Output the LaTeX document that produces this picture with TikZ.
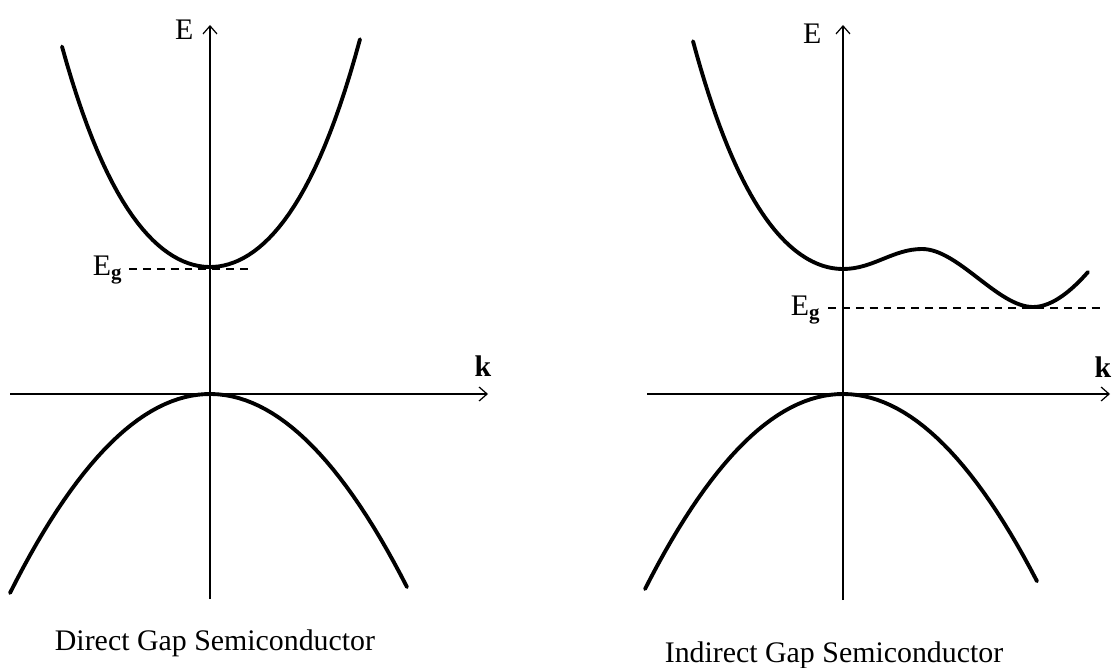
\documentclass[tikz,border=0pt]{standalone}
\usetikzlibrary{arrows.meta}
\usepackage{fontspec}
\setmainfont{Liberation Serif}

\begin{document}
\begin{tikzpicture}[x=0.02cm,y=0.02cm,line width=0.7pt,
  axis/.style={line width=0.7pt,-{Straight Barb[length=1.6mm,width=2.8mm]}},
  band/.style={line width=2.2pt,line cap=round},
  gap/.style={line width=0.8pt,dash pattern=on 4.5pt off 3.4pt},
  lbl/.style={font=\fontsize{17}{20}\selectfont,inner sep=0pt}]
\useasboundingbox (0,0) rectangle (1112,667);
% ---------- direct gap ----------
\begin{scope}[shift={(210,273)}]
  \coordinate (dB) at (0,-205); \coordinate (dT) at (0,369);
  \coordinate (dL) at (-200,0); \coordinate (dR) at (278,0);
  \draw[axis] (dB) -- (dT);
  \draw[axis] (dL) -- (dR);
  \draw[band] plot[domain=-148:150,samples=60]
    (\x,{127+79*(\x/100)*(\x/100)+9.88*(\x/100)*(\x/100)*(\x/100)*(\x/100)});
  \draw[band] plot[domain=-200:197,samples=60] (\x,{-49.75*(\x/100)*(\x/100)});
  \coordinate (dG1) at (-81,125); \coordinate (dG2) at (38,125);
  \draw[gap] (dG1) -- (dG2);
  \node[lbl,anchor=east] (dE) at (-16,364) {E};
  \node[lbl] (dk) at (273,28) {\textbf{k}};
  \node[lbl,anchor=base east] (dEg) at (-87,119) {E\textsubscript{\textbf{g}}};
  \node[lbl,anchor=base] (dCap) at (5,-256) {Direct Gap Semiconductor};
\end{scope}
% ---------- indirect gap ----------
\begin{scope}[shift={(843,273)}]
  \coordinate (iB) at (0,-206); \coordinate (iT) at (0,369);
  \coordinate (iL) at (-196,0); \coordinate (iR) at (267,0);
  \draw[axis] (iB) -- (iT);
  \draw[axis] (iL) -- (iR);
  \draw[band] plot[domain=-150:0,samples=40]
    (\x,{125+79*(\x/100)*(\x/100)+9.88*(\x/100)*(\x/100)*(\x/100)*(\x/100)})
    .. controls (30,125) and (50,145) .. (79,145)
    .. controls (115,145) and (155,87) .. (190,87)
    .. controls (210,87) and (230,105) .. (245,122);
  \draw[band] plot[domain=-198:194,samples=60] (\x,{-49.75*(\x/100)*(\x/100)});
  \coordinate (iG1) at (-15,86); \coordinate (iG2) at (257,86);
  \draw[gap] (iG1) -- (iG2);
  \node[lbl,anchor=east] (iE) at (-21,360) {E};
  \node[lbl] (ik) at (260,27) {\textbf{k}};
  \node[lbl,anchor=base east] (iEg) at (-22,79) {E\textsubscript{\textbf{g}}};
  \node[lbl,anchor=base] (iCap) at (-9,-268) {Indirect Gap Semiconductor};
\end{scope}
\end{tikzpicture}
\end{document}
